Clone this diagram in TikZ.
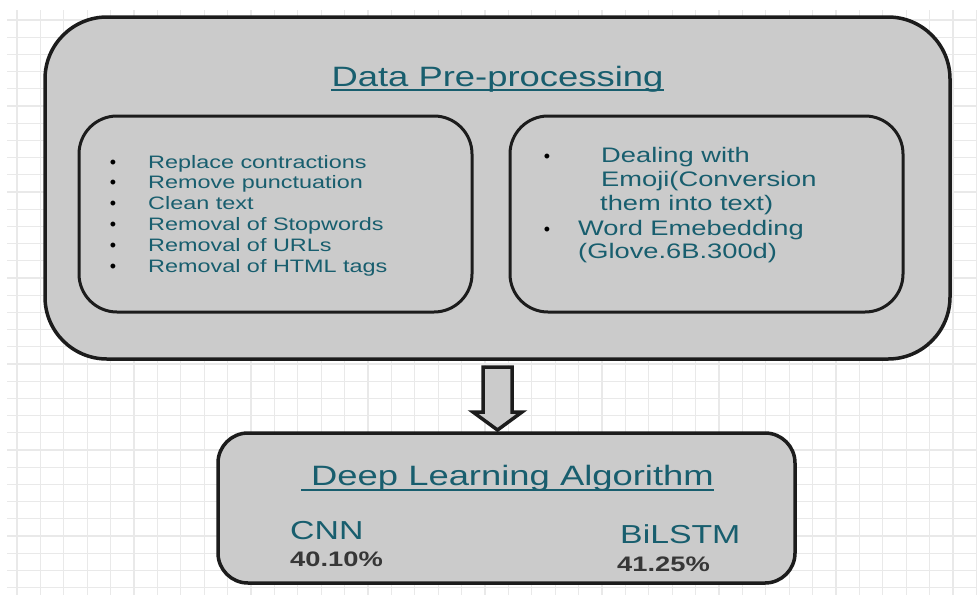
\documentclass[tikz,border=0pt]{standalone}
\usepackage{fontspec}
\setmainfont{Liberation Sans}
\usepackage{graphicx}
\usetikzlibrary{calc}
\definecolor{boxfill}{RGB}{203,203,203}
\definecolor{edge}{RGB}{28,28,28}
\definecolor{tealtxt}{RGB}{24,94,110}
\definecolor{gridc}{RGB}{233,233,233}
\definecolor{pct}{RGB}{55,55,55}
\newcommand{\sx}[1]{\scalebox{1.3}[1]{#1}}
\begin{document}
\begin{tikzpicture}[x=1pt,y=-1pt,
  panel/.style={draw=edge, fill=boxfill, line width=3.5pt, inner sep=0pt},
  txt/.style={inner sep=0pt, text=tealtxt},
  ttl/.style={txt, font=\fontsize{28}{32}\selectfont},
  lstl/.style={txt, anchor=base west, font=\fontsize{18}{21}\selectfont},
  lstr/.style={txt, anchor=base west, font=\fontsize{21}{24}\selectfont},
  bul/.style={inner sep=0pt, anchor=base, text=black, font=\fontsize{18}{21}\selectfont},
  algo/.style={txt, anchor=base west, font=\fontsize{26}{30}\selectfont},
  pcts/.style={inner sep=0pt, anchor=base west, text=pct, font=\fontsize{21}{24}\selectfont\bfseries},
  uline/.style={draw=tealtxt, line width=1.8pt}
]
\useasboundingbox (0,0) rectangle (977,595);
\fill[white] (0,0) rectangle (977,595);
% grid
\foreach \i in {0,...,41} \draw[gridc, line width=1.3pt] ({17+23.4*\i},10) -- ({17+23.4*\i},595);
\foreach \j in {0,...,33} \draw[gridc, line width=1.3pt] (7,{20+17.2*\j}) -- (977,{20+17.2*\j});

% panels
\node[panel, rounded corners=62pt, minimum width=905pt, minimum height=342pt] (outer) at (497.5,188) {};
\node[panel, line width=3pt, rounded corners=38pt, minimum width=393pt, minimum height=196pt] (left) at (275.5,214) {};
\node[panel, line width=3pt, rounded corners=38pt, minimum width=393pt, minimum height=196pt] (right) at (706.5,214) {};
\node[panel, rounded corners=30pt, minimum width=577pt, minimum height=150pt] (lower) at (506.5,508) {};

% title 1
\node[ttl, anchor=base] (t1) at (497.5,86) {\sx{Data Pre-processing}};
\draw[uline] ($(t1.base west)+(0,4)$) -- ($(t1.base east)+(0,4)$);

% left list
\node[bul] (b1) at (113,168) {\textbullet};
\node[bul] (b2) at (113,188.8) {\textbullet};
\node[bul] (b3) at (113,209.6) {\textbullet};
\node[bul] (b4) at (113,230.4) {\textbullet};
\node[bul] (b5) at (113,251.2) {\textbullet};
\node[bul] (b6) at (113,272) {\textbullet};
\node[lstl] (l1) at (148,168) {\sx{Replace contractions}};
\node[lstl] (l2) at (148,188.8) {\sx{Remove punctuation}};
\node[lstl] (l3) at (148,209.6) {\sx{Clean text}};
\node[lstl] (l4) at (148,230.4) {\sx{Removal of Stopwords}};
\node[lstl] (l5) at (148,251.2) {\sx{Removal of URLs}};
\node[lstl] (l6) at (148,272) {\sx{Removal of HTML tags}};

% right list
\node[bul] (rb1) at (547,162) {\textbullet};
\node[bul] (rb2) at (547,235) {\textbullet};
\node[lstr] (r1) at (601,162) {\sx{Dealing with}};
\node[lstr] (r2) at (601,186) {\sx{Emoji(Conversion}};
\node[lstr] (r3) at (600,210) {\sx{them into text)}};
\node[lstr] (r4) at (578,235) {\sx{Word Emebedding}};
\node[lstr] (r5) at (578,258) {\sx{(Glove.6B.300d)}};

% block arrow
\draw[edge, fill=boxfill, line width=3.5pt, line join=miter]
  (483,367) -- (512,367) -- (512,412) -- (522,412) -- (497.5,430) -- (473,412) -- (483,412) -- cycle;

% lower panel texts
\node[ttl, anchor=base west] (t2) at (311,485) {\sx{Deep Learning Algorithm}};
\draw[uline] ($(t2.base west)+(-10,5)$) -- ($(t2.base east)+(0,5)$);
\node[algo] (cnn) at (290,539) {\sx{CNN}};
\node[pcts] (p1) at (290,566) {\sx{40.10\%}};
\node[algo] (bil) at (620,543) {\sx{BiLSTM}};
\node[pcts] (p2) at (617,571) {\sx{41.25\%}};
\end{tikzpicture}
\end{document}
